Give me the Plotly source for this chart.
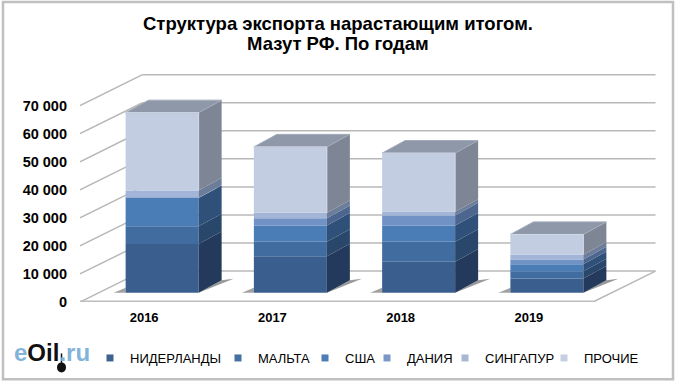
import plotly.graph_objects as go

years = ["2016", "2017", "2018", "2019"]
series_names = ["НИДЕРЛАНДЫ", "МАЛЬТА", "США", "ДАНИЯ", "СИНГАПУР", "ПРОЧИЕ"]
nl = [17400, 13000, 11100, 5100]
mt = [6300, 5200, 7100, 2600]
us = [10100, 5800, 5800, 2500]
dk = [100, 2600, 3600, 1700]
sg = [2600, 1900, 1300, 1700]
other = [27700, 23500, 20900, 7200]
all_series = [nl, mt, us, dk, sg, other]
y_ticks = [0, 10000, 20000, 30000, 40000, 50000, 60000, 70000]
y_labels = ["0", "10 000", "20 000", "30 000", "40 000", "50 000", "60 000", "70 000"]
title_line1 = "Структура экспорта нарастающим итогом."
title_line2 = "Мазут РФ. По годам"

front_colors = ["#3a5f8e", "#416ca0", "#4a7cb6", "#7092c5", "#a2b4d7", "#c2cde2"]
side_colors = ["#243a5c", "#29466b", "#2f5078", "#4d668f", "#6c7d9a", "#7e8594"]
legend_colors = ["#3f628f", "#466fa3", "#4d7db5", "#7a97c6", "#a9b7d2", "#c5cfe2"]
legend_text_px = [130, 258, 345, 407, 485, 584]
top_color = "#8f98a9"

W, H = 680, 384
ML, MB = 80, 81.5
PX_X = 128.25           # pixels per category
PX_Y = 28.1 / 10000     # pixels per unit of value
plot_w, plot_h = W - ML, H - MB


def ox(p):
    return p / PX_X


def oy(p):
    return p / PX_Y


def paper(px, py):
    return (px - ML) / plot_w, (plot_h - py) / plot_h


WALL_X, WALL_Y = ox(62.5), oy(31)
F_X, F_Y = ox(18), oy(9.2)
B_X, B_Y = ox(41), oy(21.8)
BAR_W = ox(73)

fig = go.Figure()
shapes = []
grid = "#b8b8b8"


def seg(x0, y0, x1, y1, color=grid, width=1.5):
    shapes.append(dict(type="line", xref="x", yref="y", x0=x0, y0=y0, x1=x1, y1=y1,
                       line=dict(color=color, width=width), layer="below"))


# Gridlines on the side and back walls
for t in y_ticks:
    seg(-0.5, t, -0.5 + WALL_X, t + WALL_Y)
    seg(-0.5 + WALL_X, t + WALL_Y, 3.5 + WALL_X, t + WALL_Y)
# Floor edges
seg(-0.5, 0, 3.5, 0, "#bdbdbd", 3)
seg(3.5, 0, 3.5 + WALL_X, WALL_Y)

# Bars, their sides and tops
for k, (name, vals) in enumerate(zip(series_names, all_series)):
    bases = [sum(s[i] for s in all_series[:k]) for i in range(4)]
    fig.add_trace(go.Bar(
        x=[i + F_X for i in range(4)], y=vals,
        base=[b + F_Y for b in bases], width=BAR_W,
        marker=dict(color=front_colors[k], line=dict(width=0)),
        showlegend=False, hoverinfo="skip"))
    for i in range(4):
        xr = i + F_X + BAR_W / 2
        xb = xr + B_X - F_X
        lo, hi = bases[i], bases[i] + vals[i]
        fig.add_trace(go.Scatter(
            x=[xr, xb, xb, xr, xr],
            y=[lo + F_Y, lo + B_Y, hi + B_Y, hi + F_Y, lo + F_Y],
            mode="lines", fill="toself", fillcolor=side_colors[k],
            line=dict(width=0), showlegend=False, hoverinfo="skip"))

totals = [sum(s[i] for s in all_series) for i in range(4)]
for i, tot in enumerate(totals):
    xl = i + F_X - BAR_W / 2
    xr = xl + BAR_W
    d = B_X - F_X
    fig.add_trace(go.Scatter(
        x=[xl, xr, xr + d, xl + d, xl],
        y=[tot + F_Y, tot + F_Y, tot + B_Y, tot + B_Y, tot + F_Y],
        mode="lines", fill="toself", fillcolor=top_color,
        line=dict(width=1, color="#a3abbb"), showlegend=False, hoverinfo="skip"))
    # light rim of the front face
    fig.add_trace(go.Scatter(
        x=[xl, xr, xr], y=[tot + F_Y, tot + F_Y, tot + F_Y - other[i]],
        mode="lines", line=dict(width=1, color="#d3daea"),
        showlegend=False, hoverinfo="skip"))
    # floor shadows
    shapes.append(dict(type="path", xref="x", yref="y", layer="below", line=dict(width=0),
                       fillcolor="rgba(70,70,70,0.55)",
                       path=f"M{xr},{F_Y} L{xr + d},{B_Y} L{xr + d + ox(12)},{B_Y + oy(1.5)} Z"))
    shapes.append(dict(type="path", xref="x", yref="y", layer="below", line=dict(width=0),
                       fillcolor="rgba(70,70,70,0.5)",
                       path=f"M{xl - ox(12)},{F_Y} L{xl},{F_Y} L{xl},{F_Y + oy(5)} Z"))

# Legend entries: one small legend per series, so the spacing can follow the reference
legend_layout = {}
for n, (name, c, tpx) in enumerate(zip(series_names, legend_colors, legend_text_px)):
    key = "legend" if n == 0 else f"legend{n + 1}"
    fig.add_trace(go.Scatter(x=[None], y=[None], mode="markers", name=name, legend=key,
                             showlegend=True,
                             marker=dict(symbol="square", size=7, color=c,
                                         line=dict(width=0))))
    legend_layout[key] = dict(
        orientation="h", xref="container", yref="container",
        x=(tpx - 40) / W, y=1 - 343 / H, xanchor="left", yanchor="top",
        font=dict(size=13, family="Liberation Sans", color="black"),
        bgcolor="rgba(0,0,0,0)")

# Outer frame
x0, y0 = paper(3, 2)
x1, y1 = paper(673, 380)
shapes.append(dict(type="rect", xref="paper", yref="paper", x0=x0, y0=y0, x1=x1, y1=y1,
                   line=dict(color="#c0c0c0", width=2.5), layer="below"))

# Logo drop
dx0, dy0 = paper(57, 363)
dx1, dy1 = paper(66, 373)
shapes.append(dict(type="circle", xref="paper", yref="paper", x0=dx0, y0=dy0, x1=dx1, y1=dy1,
                   fillcolor="#111111", line=dict(width=0)))
sx0, sy0 = paper(61.5, 354)
sx1, sy1 = paper(61.5, 364)
shapes.append(dict(type="line", xref="paper", yref="paper", x0=sx0, y0=sy0, x1=sx1, y1=sy1,
                   line=dict(color="#111111", width=1.5)))

lx, ly = paper(12, 353)
tx, ty1 = paper(338, 24)
_, ty2 = paper(338, 44)
annotations = [
    dict(xref="paper", yref="paper", x=lx, y=ly, xanchor="left", yanchor="middle", showarrow=False,
         text="<b><span style='color:#82b4da'>e</span><span style='color:#111111'>Oil</span>"
              "<span style='color:#82b4da'>.ru</span></b>",
         font=dict(family="Liberation Sans", size=24)),
    dict(xref="paper", yref="paper", x=tx, y=ty2, xanchor="center", yanchor="middle", showarrow=False,
         text=title_line2,
         font=dict(family="Liberation Sans", size=18.5, color="black", weight="bold")),
]

fig.update_layout(
    width=W, height=H, barmode="overlay",
    margin=dict(l=ML, r=0, t=0, b=MB, pad=0, autoexpand=False),
    paper_bgcolor="white", plot_bgcolor="rgba(0,0,0,0)",
    font=dict(family="Liberation Sans", color="black"),
    title=dict(text=title_line1, x=338 / W, xanchor="center", y=1 - 24 / H, yanchor="middle",
               xref="container", yref="container",
               font=dict(family="Liberation Sans", size=18.5, color="black", weight="bold")),
    xaxis=dict(range=[-0.5, -0.5 + plot_w / PX_X], tickvals=[0, 1, 2, 3], ticktext=years,
               showgrid=False, zeroline=False, showline=False, ticks="", ticklabelstandoff=6,
               tickfont=dict(size=13, weight="bold", family="Liberation Sans", color="black")),
    yaxis=dict(range=[0, plot_h / PX_Y], tickvals=y_ticks, ticktext=y_labels,
               showgrid=False, zeroline=False, showline=False, ticks="", ticklabelstandoff=12,
               tickfont=dict(size=14.5, weight="bold", family="Liberation Sans", color="black")),
    shapes=shapes, annotations=annotations, hovermode=False,
    **legend_layout,
)

fig.write_html("out.html", config={"displayModeBar": False},
               post_script="document.body.style.margin='0';")
